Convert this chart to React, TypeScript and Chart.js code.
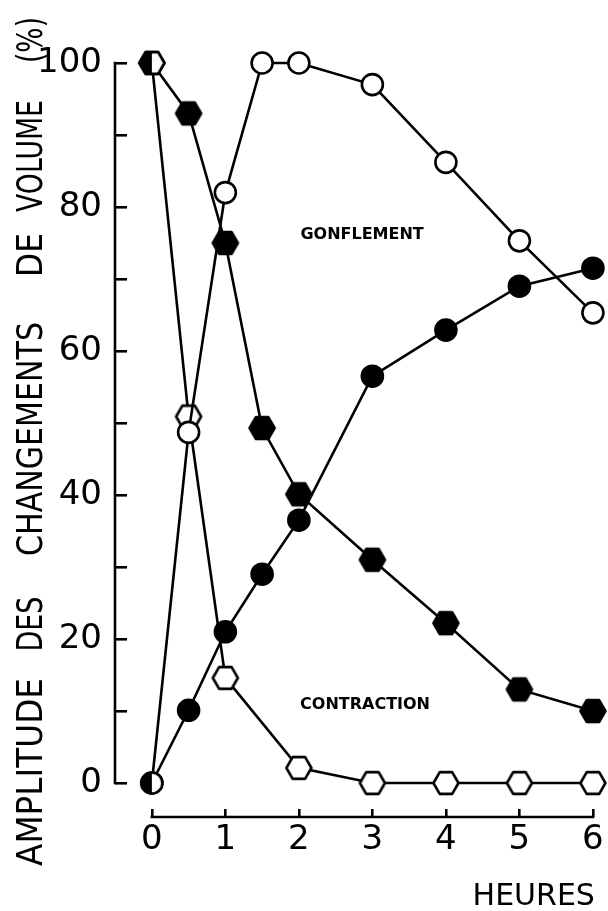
import React, { useEffect, useRef } from 'react';
import { Chart, registerables } from 'chart.js';

Chart.register(...registerables);

// ---- data ----
const HOURS = [0, 0.5, 1, 1.5, 2, 3, 4, 5, 6];
const HOURS_CONTRACTION_OPEN = [0, 0.5, 1, 2, 3, 4, 5, 6];
const GONFLEMENT_OPEN = [0, 48.7, 82, 100, 100, 97, 86.2, 75.3, 65.3];
const CONTRACTION_OPEN = [100, 50.9, 14.6, 2.1, 0, 0, 0, 0];
const CONTRACTION_FILLED = [100, 93, 75, 49.3, 40.1, 31, 22.2, 13, 10];
const GONFLEMENT_FILLED = [0, 10.1, 21, 29, 36.5, 56.5, 62.9, 69, 71.5];

const X_TICKS = [0, 1, 2, 3, 4, 5, 6];
const Y_TICKS = [0, 10, 20, 30, 40, 50, 60, 70, 80, 90, 100];
const Y_LABELED = [0, 20, 40, 60, 80, 100];
const X_TITLE = 'HEURES';
const Y_TITLE_WORDS = ['AMPLITUDE', 'DES', 'CHANGEMENTS', 'DE', 'VOLUME', '(%)'];
const ANNOTATION_TEXTS = ['GONFLEMENT', 'CONTRACTION'];
const ANNOTATION_X = [2.86, 2.9];
const ANNOTATION_Y = [76.1, 10.8];

// ---- layout constants ----
const W = 608;
const H = 911;
const FONT = '"DejaVu Sans", sans-serif';
const LINE_W = 2.6;
// y-title word placement (centre along the axis, length)
const Y_TITLE_LAYOUT = [
  { c: 772, len: 188 },
  { c: 624, len: 55 },
  { c: 439, len: 234 },
  { c: 255, len: 44 },
  { c: 156, len: 112 },
  { c: 40, len: 46 },
];
const Y_TITLE_BASELINE_X = 42;

function hexCanvas(mode: 'open' | 'filled' | 'half'): HTMLCanvasElement {
  const size = 30;
  const c = document.createElement('canvas');
  c.width = size;
  c.height = size;
  const g = c.getContext('2d') as CanvasRenderingContext2D;
  const cx = size / 2, cy = size / 2, r = 12.5, hh = (r * Math.sqrt(3)) / 2;
  const path = () => {
    g.beginPath();
    g.moveTo(cx - r, cy);
    g.lineTo(cx - r / 2, cy - hh);
    g.lineTo(cx + r / 2, cy - hh);
    g.lineTo(cx + r, cy);
    g.lineTo(cx + r / 2, cy + hh);
    g.lineTo(cx - r / 2, cy + hh);
    g.closePath();
  };
  path();
  g.fillStyle = mode === 'filled' ? '#000' : '#fff';
  g.fill();
  if (mode === 'half') {
    g.save();
    path();
    g.clip();
    g.fillStyle = '#000';
    g.fillRect(0, 0, cx, size);
    g.restore();
  }
  path();
  g.lineWidth = LINE_W;
  g.lineJoin = 'round';
  g.strokeStyle = '#000';
  g.stroke();
  return c;
}

function halfCircleCanvas(): HTMLCanvasElement {
  const size = 28;
  const c = document.createElement('canvas');
  c.width = size;
  c.height = size;
  const g = c.getContext('2d') as CanvasRenderingContext2D;
  const cx = size / 2, cy = size / 2, r = 10.5;
  g.beginPath();
  g.arc(cx, cy, r, 0, Math.PI * 2);
  g.fillStyle = '#fff';
  g.fill();
  g.save();
  g.beginPath();
  g.arc(cx, cy, r, 0, Math.PI * 2);
  g.clip();
  g.fillStyle = '#000';
  g.fillRect(0, 0, cx, size);
  g.restore();
  g.beginPath();
  g.arc(cx, cy, r, 0, Math.PI * 2);
  g.lineWidth = LINE_W;
  g.strokeStyle = '#000';
  g.stroke();
  return c;
}

const decorPlugin = {
  id: 'decor',
  beforeDraw(chart: any) {
    const { ctx } = chart;
    ctx.save();
    ctx.fillStyle = '#fff';
    ctx.fillRect(0, 0, chart.width, chart.height);
    ctx.restore();
  },
  beforeDatasetsDraw(chart: any) {
    const { ctx, chartArea } = chart;
    const xs = chart.scales.x;
    const ys = chart.scales.y;
    ctx.save();
    ctx.strokeStyle = '#000';
    ctx.lineWidth = LINE_W;
    ctx.lineCap = 'square';
    // y axis line (detached, spans 0..100)
    const ax = chartArea.left - ys.options.grid.tickLength;
    ctx.beginPath();
    ctx.moveTo(ax, ys.getPixelForValue(Y_TICKS[Y_TICKS.length - 1]));
    ctx.lineTo(ax, ys.getPixelForValue(Y_TICKS[0]));
    ctx.stroke();
    // x axis line (detached, spans 0..6)
    const ay = chartArea.bottom + xs.options.grid.tickLength;
    ctx.beginPath();
    ctx.moveTo(xs.getPixelForValue(X_TICKS[0]), ay);
    ctx.lineTo(xs.getPixelForValue(X_TICKS[X_TICKS.length - 1]), ay);
    ctx.stroke();

    // y title, word by word, rotated
    ctx.fillStyle = '#000';
    ctx.font = `35px ${FONT}`;
    ctx.textAlign = 'center';
    ctx.textBaseline = 'alphabetic';
    Y_TITLE_WORDS.forEach((w, i) => {
      const L = Y_TITLE_LAYOUT[i];
      ctx.save();
      ctx.translate(Y_TITLE_BASELINE_X, L.c);
      ctx.rotate(-Math.PI / 2);
      ctx.fillText(w, 0, 0, L.len);
      ctx.restore();
    });
    ctx.restore();
  },
  afterDatasetsDraw(chart: any) {
    const { ctx } = chart;
    const xs = chart.scales.x;
    const ys = chart.scales.y;
    ctx.save();
    ctx.fillStyle = '#000';
    ctx.font = `bold 16px ${FONT}`;
    ctx.textAlign = 'center';
    ctx.textBaseline = 'middle';
    ANNOTATION_TEXTS.forEach((t, i) => {
      ctx.fillText(t, xs.getPixelForValue(ANNOTATION_X[i]), ys.getPixelForValue(ANNOTATION_Y[i]));
    });
    ctx.restore();
  },
};

export default function App() {
  const ref = useRef<HTMLCanvasElement | null>(null);

  useEffect(() => {
    const canvas = ref.current;
    if (!canvas) return;
    const openHex = hexCanvas('open');
    const filledHex = hexCanvas('filled');
    const halfHex = hexCanvas('half');
    const halfCircle = halfCircleCanvas();

    const common = {
      borderColor: '#000',
      borderWidth: LINE_W,
      pointBorderColor: '#000',
      pointBorderWidth: LINE_W,
      pointRadius: 10.5,
      pointHoverRadius: 10.5,
      tension: 0,
      clip: false as const,
    };

    const chart = new Chart(canvas, {
      type: 'line',
      data: {
        datasets: [
          {
            ...common,
            label: 'Gonflement (cercles ouverts)',
            data: HOURS.map((h, i) => ({ x: h, y: GONFLEMENT_OPEN[i] })),
            pointStyle: (c: any) => (c.dataIndex === 0 ? halfCircle : 'circle'),
            pointBackgroundColor: '#fff',
          },
          {
            ...common,
            label: 'Contraction (hexagones ouverts)',
            data: HOURS_CONTRACTION_OPEN.map((h, i) => ({ x: h, y: CONTRACTION_OPEN[i] })),
            pointStyle: (c: any) => (c.dataIndex === 0 ? halfHex : openHex),
            pointBackgroundColor: '#fff',
          },
          {
            ...common,
            label: 'Contraction (hexagones pleins)',
            data: HOURS.map((h, i) => ({ x: h, y: CONTRACTION_FILLED[i] })),
            pointStyle: filledHex as any,
            pointBackgroundColor: '#000',
          },
          {
            ...common,
            label: 'Gonflement (cercles pleins)',
            data: HOURS.map((h, i) => ({ x: h, y: GONFLEMENT_FILLED[i] })),
            pointStyle: 'circle',
            pointBackgroundColor: '#000',
          },
        ] as any,
      },
      options: {
        responsive: false,
        animation: false,
        events: [],
        layout: { padding: { top: 20, right: 10, left: 0, bottom: 0 } },
        plugins: { legend: { display: false }, tooltip: { enabled: false } },
        scales: {
          x: {
            type: 'linear',
            min: -0.338,
            max: 6.027,
            afterBuildTicks: (s: any) => {
              s.ticks = X_TICKS.map((v) => ({ value: v }));
            },
            afterFit: (s: any) => {
              s.height = 102;
              s.paddingLeft = 0;
              s.paddingRight = 0;
            },
            ticks: {
              autoSkip: false,
              maxRotation: 0,
              padding: 3,
              color: '#000',
              font: { family: FONT, size: 34 },
              callback: (v: any) => String(v),
            },
            grid: { drawOnChartArea: false, drawTicks: true, tickLength: 8, color: '#000', lineWidth: LINE_W },
            border: { display: false },
            title: {
              display: true,
              text: X_TITLE,
              align: 'end',
              color: '#000',
              font: { family: FONT, size: 30, lineHeight: 1 },
              padding: { top: 0, bottom: -1 },
            },
          },
          y: {
            type: 'linear',
            min: -3.61,
            max: 105.97,
            afterBuildTicks: (s: any) => {
              s.ticks = Y_TICKS.map((v) => ({ value: v }));
            },
            afterFit: (s: any) => {
              s.width = 127;
              s.paddingTop = 0;
              s.paddingBottom = 0;
            },
            ticks: {
              autoSkip: false,
              padding: 13,
              color: '#000',
              font: { family: FONT, size: 34 },
              callback: (v: any) => (Y_LABELED.includes(Number(v)) ? String(v) : ''),
            },
            grid: { drawOnChartArea: false, drawTicks: true, tickLength: 12, color: '#000', lineWidth: LINE_W },
            border: { display: false },
          },
        },
      } as any,
      plugins: [decorPlugin],
    });
    return () => chart.destroy();
  }, []);

  return (
    <div style={{ position: 'absolute', left: 0, top: 0, width: W, height: H, background: '#fff' }}>
      <canvas ref={ref} width={W} height={H} style={{ display: 'block', width: W, height: H }} />
    </div>
  );
}
